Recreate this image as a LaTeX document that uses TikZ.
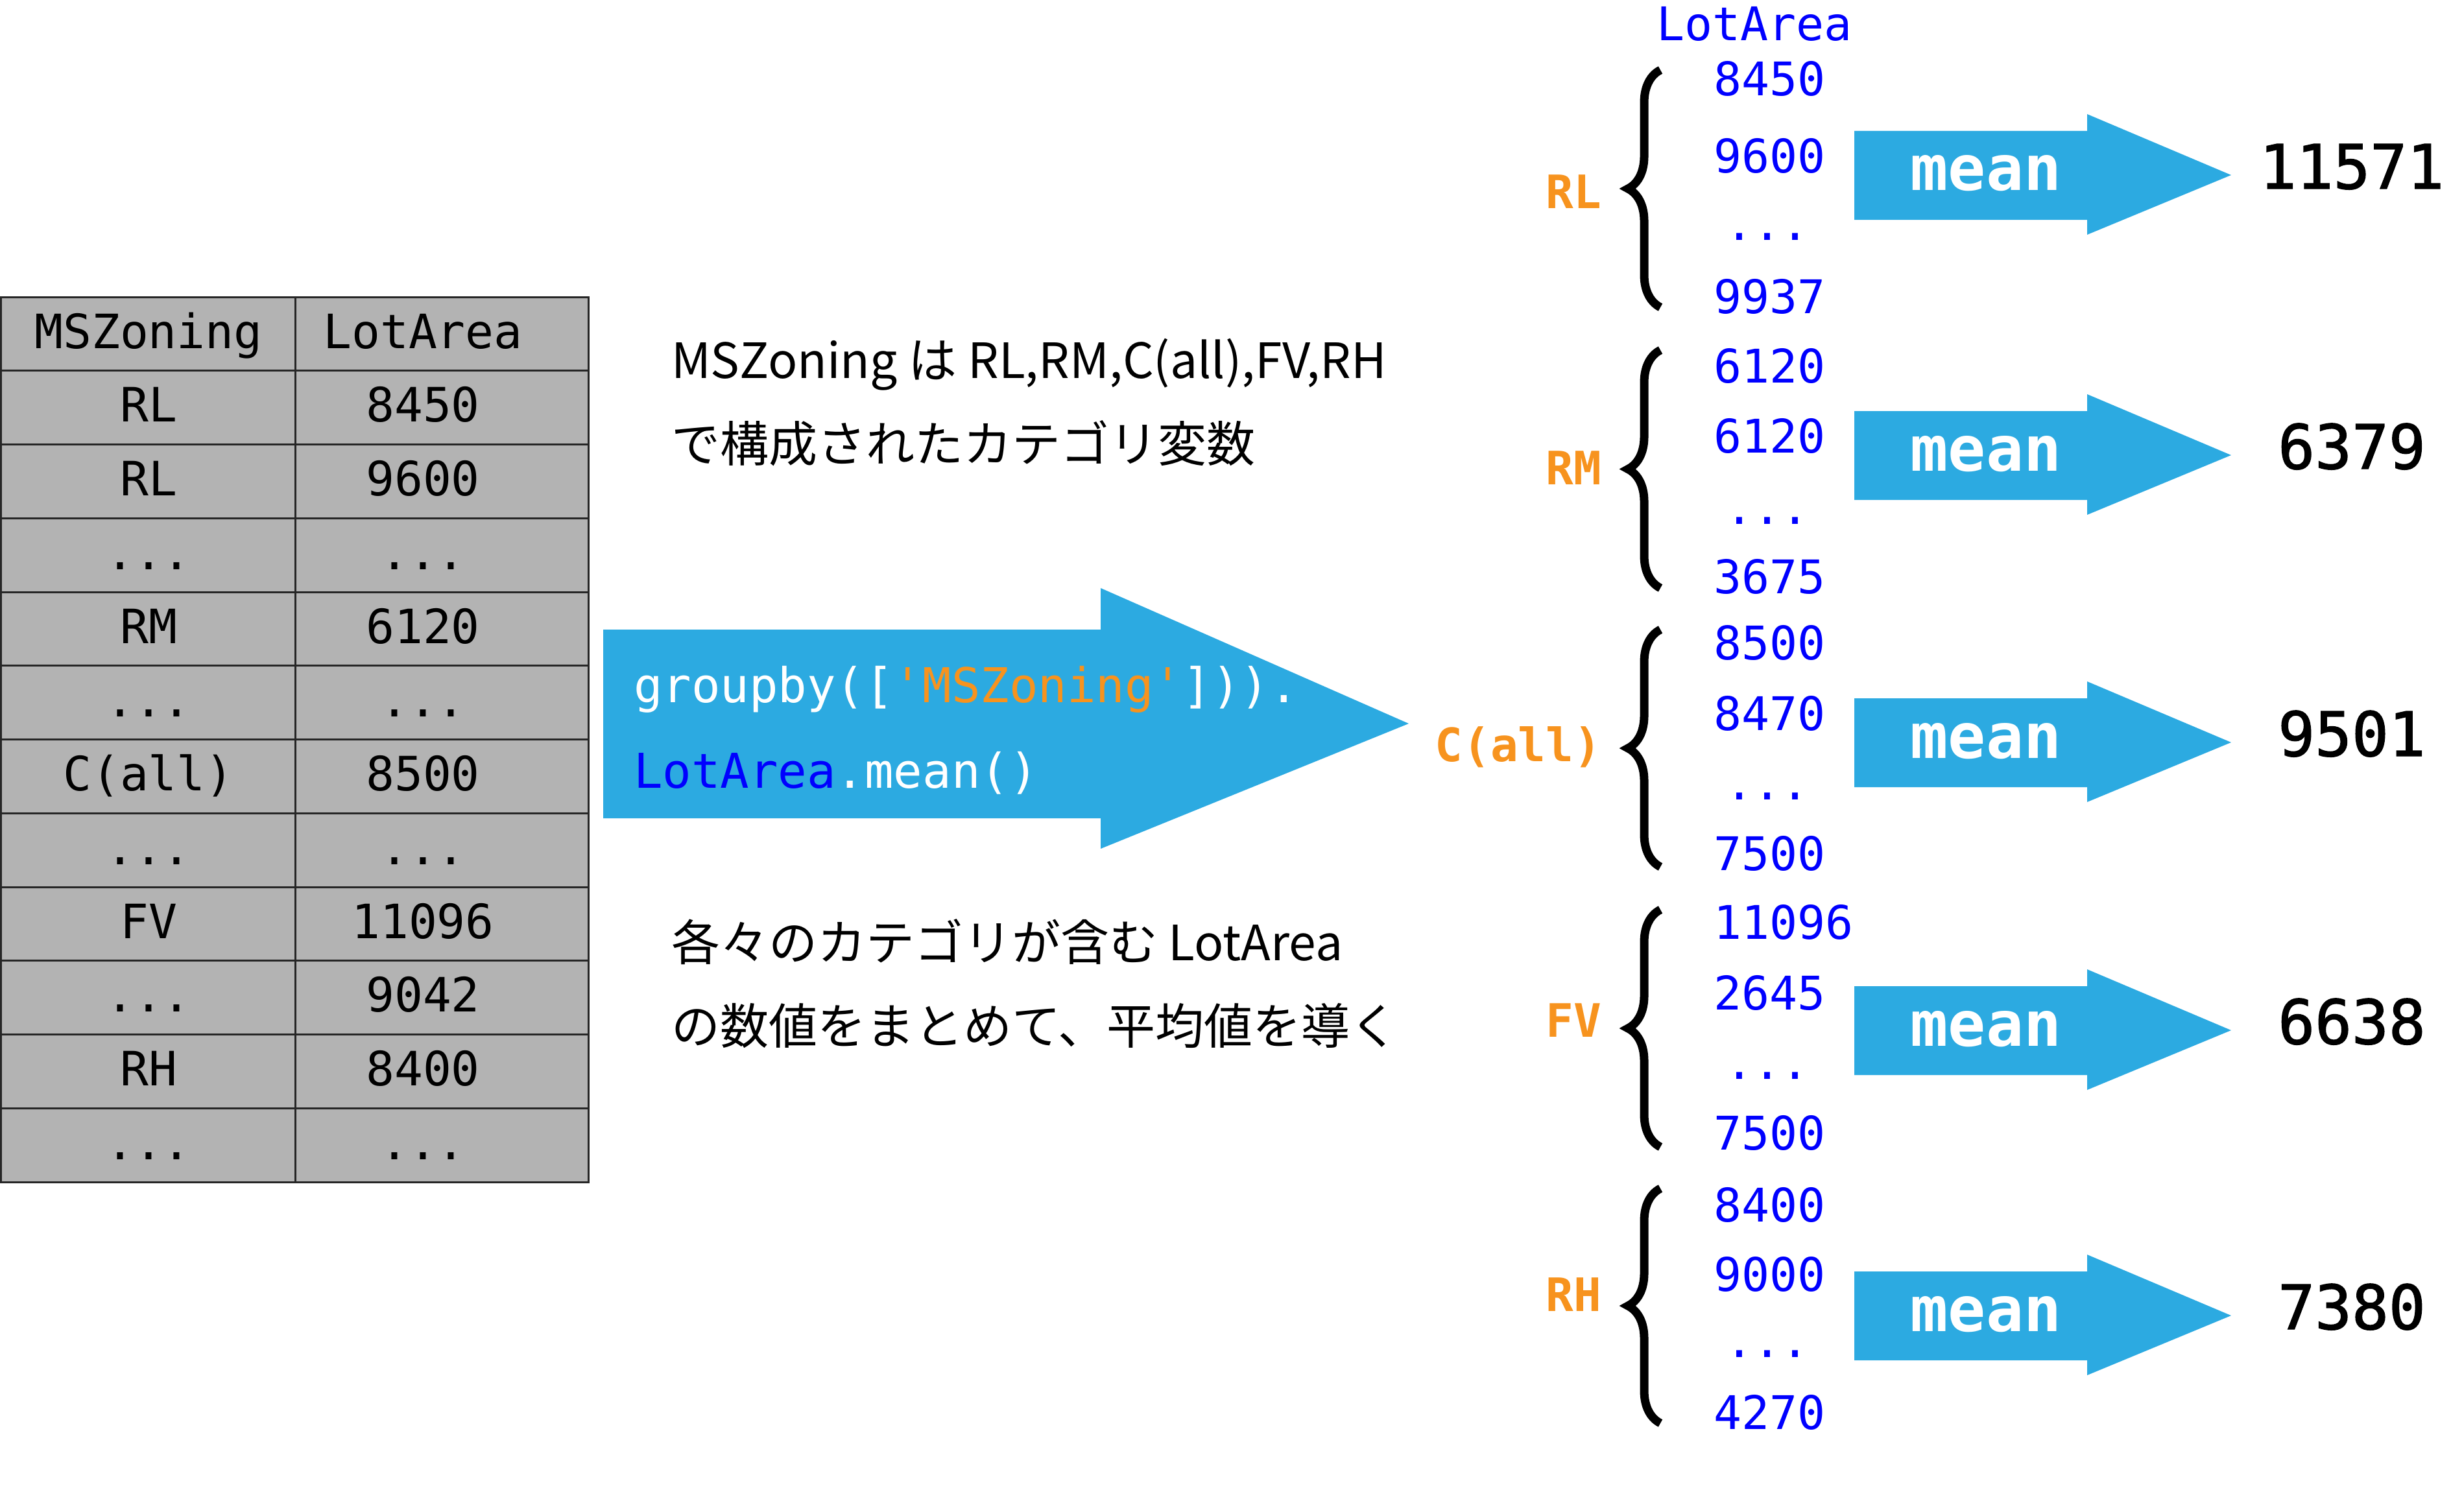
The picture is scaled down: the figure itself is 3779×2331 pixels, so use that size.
\documentclass[tikz,border=0pt]{standalone}
\usepackage{fontspec}
\setmonofont{DejaVu Sans Mono}
\newfontfamily\jpfont{Noto Sans CJK JP}
\newfontfamily\resfont{DejaVu Sans Mono}[FakeBold=1.5]
\usetikzlibrary{decorations.pathreplacing}
\definecolor{arrowblue}{RGB}{44,170,225}
\definecolor{codeorange}{RGB}{247,147,30}
\definecolor{tablegray}{RGB}{179,179,179}
\definecolor{codeblue}{RGB}{0,0,255}
\newcommand{\tdots}{...}
\begin{document}
\begin{tikzpicture}[x=0.2pt,y=-0.2pt,
  gridline/.style={line width=0.6pt,draw=black!85},
  tabtxt/.style={font=\ttfamily\fontsize{14.6pt}{17pt}\selectfont,anchor=base,inner sep=0pt},
  codetxt/.style={font=\ttfamily\fontsize{14.8pt}{17pt}\selectfont,text=white,anchor=base west,inner sep=0pt},
  numtxt/.style={font=\ttfamily\fontsize{14.3pt}{17pt}\selectfont,text=codeblue,anchor=base west,inner sep=0pt},
  labtxt/.style={font=\ttfamily\bfseries\fontsize{14.2pt}{17pt}\selectfont,text=codeorange,anchor=base east,inner sep=0pt},
  meantxt/.style={font=\ttfamily\bfseries\fontsize{19.3pt}{22pt}\selectfont,text=white,anchor=base,inner sep=0pt},
  restxt/.style={font=\resfont\fontsize{18.9pt}{22pt}\selectfont,text=black,anchor=base,inner sep=0pt},
  jptxt/.style={font=\jpfont\fontsize{15pt}{18pt}\selectfont,anchor=base west,inner sep=0pt},
  bracestyle/.style={line width=2.6pt,decorate,decoration={brace,amplitude=10pt}},
  bigarrow/.style={fill=arrowblue}
]
\useasboundingbox (0,0) rectangle (3779,2331);

% ---- table ----
\fill[tablegray] (0,458) rectangle (909,1823);
\foreach \k in {0,...,12} \draw[gridline] (0,{458+\k*113.75}) -- (909,{458+\k*113.75});
\draw[gridline] (1.5,458) -- (1.5,1823);
\draw[gridline] (455,458) -- (455,1823);
\draw[gridline] (907.5,458) -- (907.5,1823);
\foreach \a/\b [count=\i from 0] in {MSZoning/LotArea,RL/8450,RL/9600,\tdots/\tdots,RM/6120,\tdots/\tdots,C(all)/8500,\tdots/\tdots,FV/11096,\tdots/9042,RH/8400,\tdots/\tdots}
{
  \node[tabtxt] (key\i) at (229,{458+\i*113.75+79}) {\a};
  \node[tabtxt] (val\i) at (652,{458+\i*113.75+79}) {\b};
}

% ---- descriptions ----
\node[jptxt] (desc1) at (1034,583) {MSZoning は RL,RM,C(all),FV,RH};
\node[jptxt] (desc2) at (1034,712) {で構成されたカテゴリ変数};
\node[jptxt] (desc3) at (1034,1481) {各々のカテゴリが含む LotArea};
\node[jptxt] (desc4) at (1034,1610) {の数値をまとめて、平均値を導く};

% ---- big arrow ----
\fill[bigarrow] (930,971) -- (1697,971) -- (1697,907) -- (2172,1116) -- (1697,1309) -- (1697,1262) -- (930,1262) -- cycle;
\node[codetxt] (code1) at (976,1083) {groupby([\textcolor{codeorange}{'MSZoning'}])).};
\node[codetxt] (code2) at (976,1215) {\textcolor{codeblue}{LotArea}.mean()};

% ---- right side ----
\node[numtxt,anchor=base] (hdr) at (2705,63) {LotArea};
\foreach \i/\lab/\ly/\bt/\bb/\na/\ya/\nb/\yb/\yd/\nc/\yc/\c/\res in {
  1/RL/322/108/474/8450/148/9600/267/370/9937/483/270/11571,
  2/RM/747/540/907/6120/590/6120/698/808/3675/915/702/6379,
  3/C(all)/1174/971/1337/8500/1017/8470/1126/1233/7500/1342/1145/9501,
  4/FV/1599/1403/1769/11096/1448/2645/1557/1664/7500/1773/1589/6638,
  5/RH/2022/1833/2195/8400/1884/9000/1991/2093/4270/2204/2029/7380}
{
  \node[labtxt] (lab\i) at (2470,\ly) {\lab};
  \coordinate (bt\i) at (2560,\bt);
  \coordinate (bb\i) at (2560,\bb);
  \draw[bracestyle] (bb\i) -- (bt\i);
  \node[numtxt] (na\i) at (2641,\ya) {\na};
  \node[numtxt] (nb\i) at (2641,\yb) {\nb};
  \node[numtxt,anchor=base] (nd\i) at (2725,\yd) {...};
  \node[numtxt] (nc\i) at (2641,\yc) {\nc};
  \fill[bigarrow] (2859,{\c-68}) -- (3218,{\c-68}) -- (3218,{\c-94}) -- (3440,\c) -- (3218,{\c+92}) -- (3218,{\c+69}) -- (2859,{\c+69}) -- cycle;
  \node[meantxt] (mean\i) at (3062,{\c+24}) {mean};
  \node[restxt] (res\i) at (3626,{\c+21}) {\res};
}
\end{tikzpicture}
\end{document}
